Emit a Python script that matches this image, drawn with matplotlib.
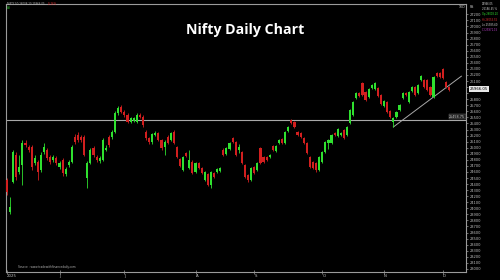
import matplotlib
matplotlib.use("Agg")
import matplotlib.pyplot as plt
import numpy as np

# ---------------- data ----------------
opens = [24468, 23940, 24435, 24880, 24600, 24715, 25078, 25012, 25012, 24748,
         24765, 24633, 24930, 24963, 24847, 24798, 24831, 24682, 24798, 24567,
         24715, 24765, 25177, 25210, 25177, 25177, 24501, 24748, 24996, 24847,
         24781, 24798, 24963, 25177, 25177, 25260, 25573, 25672, 25590, 25540,
         25425, 25441, 25425, 25540, 25507, 25260, 25160, 25095, 25210, 25243,
         25128, 25012, 25177, 25128, 25260, 25012, 24814, 24633, 24913, 24666,
         24765, 24600, 24748, 24666, 24468, 24567, 24385, 24583, 24600, 24616,
         24963, 24897, 24979, 25160, 25095, 24963, 24930, 24715, 24550, 24468,
         24682, 24633, 24996, 24847, 24847, 24847, 25029, 24946, 25078, 25144,
         25078, 25276, 25458, 25425, 25260, 25243, 25160, 25078, 24847, 24765,
         24748, 24633, 24765, 24930, 25078, 25078, 25243, 25194, 25210, 25293,
         25210, 25408, 25540, 25820, 25903, 26068, 25920, 25837, 25985, 25969,
         25985, 25870, 25689, 25755, 25606, 25425, 25507, 25623, 25820, 25903,
         25755, 25936, 26002, 25903, 26117, 26117, 26117, 26002, 25837, 26233,
         26233, 26299, 26085, 26002]
highs = [24500, 24187, 24963, 24930, 24880, 25128, 25128, 25045, 25045, 24880,
         24798, 24930, 25078, 24996, 24880, 24880, 24864, 24781, 24831, 24682,
         24798, 25045, 25226, 25260, 25210, 25210, 24781, 24996, 25029, 24880,
         24864, 25160, 25045, 25210, 25293, 25606, 25689, 25705, 25623, 25573,
         25507, 25507, 25573, 25573, 25540, 25293, 25177, 25243, 25276, 25260,
         25144, 25128, 25210, 25260, 25293, 25029, 24831, 24864, 24930, 24963,
         24798, 24765, 24765, 24682, 24616, 24583, 24616, 24600, 24666, 24682,
         24996, 25012, 25095, 25177, 25111, 25062, 24946, 24732, 24567, 24682,
         24699, 24765, 25012, 24864, 24864, 24897, 25045, 25045, 25144, 25160,
         25276, 25358, 25475, 25441, 25276, 25260, 25177, 25095, 24864, 24781,
         24765, 24864, 24946, 25111, 25144, 25226, 25260, 25325, 25260, 25309,
         25358, 25640, 25771, 25920, 25920, 26085, 25936, 25985, 26052, 26085,
         26002, 25887, 25787, 25771, 25623, 25507, 25606, 25722, 25920, 25920,
         25936, 26018, 26018, 26052, 26200, 26134, 26134, 26018, 26184, 26250,
         26250, 26316, 26101, 26018]
lows = [24220, 23907, 24418, 24468, 24567, 24385, 25012, 24930, 24633, 24715,
        24468, 24600, 24897, 24798, 24732, 24765, 24715, 24649, 24534, 24534,
        24682, 24748, 25062, 25095, 25095, 24864, 24336, 24732, 24847, 24765,
        24748, 24781, 24946, 25012, 25144, 25243, 25540, 25573, 25507, 25408,
        25408, 25425, 25408, 25491, 25342, 25128, 25062, 25062, 25194, 25111,
        24963, 24880, 25062, 25111, 25062, 24831, 24682, 24616, 24847, 24649,
        24567, 24583, 24649, 24567, 24451, 24369, 24336, 24501, 24583, 24600,
        24864, 24880, 24963, 25078, 24864, 24913, 24732, 24501, 24435, 24451,
        24567, 24616, 24732, 24748, 24781, 24831, 24946, 24930, 25062, 25062,
        25062, 25260, 25391, 25325, 25194, 25160, 25062, 24897, 24666, 24649,
        24600, 24616, 24748, 24913, 24979, 25062, 25194, 25177, 25194, 25144,
        25194, 25391, 25523, 25804, 25837, 25854, 25771, 25820, 25969, 25953,
        25837, 25705, 25672, 25573, 25491, 25342, 25491, 25606, 25804, 25854,
        25738, 25920, 25854, 25887, 26101, 25985, 25936, 25854, 25820, 26167,
        26150, 26134, 25985, 25937]
closes = [24270, 24022, 24930, 24517, 24682, 25078, 25045, 24963, 24682, 24831,
          24600, 24880, 25012, 24831, 24765, 24847, 24748, 24748, 24583, 24649,
          24765, 25012, 25095, 25128, 25128, 24880, 24748, 24963, 24880, 24798,
          24831, 25128, 24996, 25045, 25260, 25573, 25656, 25590, 25540, 25425,
          25491, 25491, 25540, 25507, 25375, 25160, 25095, 25226, 25243, 25128,
          24996, 25095, 25078, 25243, 25078, 24847, 24699, 24847, 24864, 24798,
          24583, 24748, 24666, 24583, 24600, 24385, 24600, 24517, 24649, 24666,
          24880, 24996, 25078, 25095, 24880, 25012, 24748, 24517, 24468, 24666,
          24583, 24748, 24748, 24765, 24798, 24880, 24963, 25029, 25128, 25078,
          25260, 25342, 25408, 25342, 25210, 25177, 25078, 24913, 24682, 24666,
          24633, 24847, 24930, 25095, 25128, 25210, 25210, 25309, 25243, 25160,
          25342, 25623, 25755, 25903, 25854, 25870, 25787, 25969, 26035, 26068,
          25854, 25722, 25771, 25590, 25507, 25491, 25590, 25705, 25903, 25870,
          25920, 26002, 25870, 26035, 26184, 26002, 25953, 25870, 26167, 26184,
          26167, 26150, 26002, 25953]

month_labels = ["2025", "J", "J", "A", "S", "O", "N", "D"]
month_idx = [0, 17, 38, 61, 80, 102, 122, 141]

hline_level = 25458.75
trend_x = [125, 147]
trend_y = [25342, 26180]
last_price = 25966.05
source_text = "Source : www.tradewithfinancedaily.com"
info_lines = ["25966.05", "26186.45 %", "Op 26008.20", "Hi 26053.55", "Lo 25985.60", "Cl 25971.15"]

# ---------------- figure ----------------
W, H = 500, 280
fig = plt.figure(figsize=(W / 100, H / 100), dpi=100)
fig.patch.set_facecolor("black")
ax = fig.add_axes([6 / W, 8 / H, 460 / W, 268 / H])
ax.set_facecolor("black")

GREEN = "#2fe02f"
RED = "#d21f1f"
x = np.arange(len(opens))
o = np.array(opens); h = np.array(highs); l = np.array(lows); c = np.array(closes)
up = c >= o
cols = np.where(up, GREEN, RED)
ax.vlines(x, l, h, colors=cols, linewidth=0.6, zorder=2)
body_bot = np.minimum(o, c)
body_h = np.maximum(np.abs(c - o), 12)
ax.bar(x, body_h, bottom=body_bot, width=0.68, color=cols, linewidth=0, zorder=3)

ax.set_xlim(-0.32, 148.5)
ax.set_ylim(22949, 27371)

# horizontal level and trend line
ax.axhline(hline_level, color="#a8a8a8", linewidth=0.8, zorder=1)
ax.plot(trend_x, trend_y, color="#a8a8a8", linewidth=0.7, zorder=1)
ax.text(148.2, hline_level + 15, f"{hline_level:.2f}", color="#cfcfcf", fontsize=2.4,
        ha="right", va="bottom", zorder=4,
        bbox=dict(boxstyle="square,pad=0.15", fc="#202020", ec="#777777", lw=0.3))

# axes styling
for s in ax.spines.values():
    s.set_color("#9a9a9a")
    s.set_linewidth(0.8)
ax.yaxis.tick_right()
ticks = np.arange(23000, 27201, 100)
ax.set_yticks(ticks)
ax.set_yticklabels(["" if abs(t - last_price) < 100 else f"{t}" for t in ticks])
ax.tick_params(axis="y", colors="#bfbfbf", labelsize=2.6, length=1.2, width=0.4, pad=1.3)
ax.set_xticks(month_idx)
ax.set_xticklabels(month_labels)
ax.tick_params(axis="x", colors="#bfbfbf", labelsize=2.8, length=2.5, width=0.4,
               pad=0.3, direction="inout")
for lbl in ax.get_xticklabels():
    lbl.set_horizontalalignment("left")

# current price tag
ax.annotate(f"{last_price:.2f}", xy=(1.0, last_price), xycoords=("axes fraction", "data"),
            xytext=(3, 0), textcoords="offset points", color="black", fontsize=2.8,
            va="center", ha="left", annotation_clip=False,
            bbox=dict(boxstyle="square,pad=0.2", fc="#e8e8e8", ec="none"))

# title
fig.text(0.49, 0.893, "Nifty Daily Chart", color="white", fontsize=10.2,
         fontweight="bold", family="Open Sans", ha="center", va="center")

# small info texts top-left
t0 = fig.text(0.014, 0.985, "NIFTY 50 26008.20 25966.05", color="#b0b0b0", fontsize=1.9,
              ha="left", va="center")
fig.text(0.0, 0.0, "-0.26%", color="#e03030", fontsize=1.9, ha="left", va="center",
         transform=matplotlib.transforms.offset_copy(fig.transFigure, fig=fig, x=0, y=0))
fig.texts[-1].remove()
ax.annotate("-0.26%", xy=(1, 0.5), xycoords=t0, xytext=(2.5, 0), textcoords="offset points",
            color="#e03030", fontsize=1.9, ha="left", va="center", annotation_clip=False)
fig.text(0.014, 0.970, "Vol", color=GREEN, fontsize=1.9, ha="left", va="center")

# info texts top-right
fig.text(0.918, 0.975, "10D", color="#cfcfcf", fontsize=2.3, ha="left", va="center")
fig.text(0.940, 0.975, "RS", color="#cfcfcf", fontsize=2.3, ha="left", va="center")
info_cols = ["#d0d0d0", "#d0d0d0", GREEN, "#e03030", "#d0d0d0", "#c040d0"]
for k, (t, col) in enumerate(zip(info_lines, info_cols)):
    fig.text(0.963, 0.987 - k * 0.019, t, color=col, fontsize=1.85, ha="left", va="center")

# source
fig.text(0.036, 0.045, source_text, color="#b0b0b0", fontsize=2.1, ha="left", va="center")

fig.savefig("out.png", dpi=100, facecolor="black")
